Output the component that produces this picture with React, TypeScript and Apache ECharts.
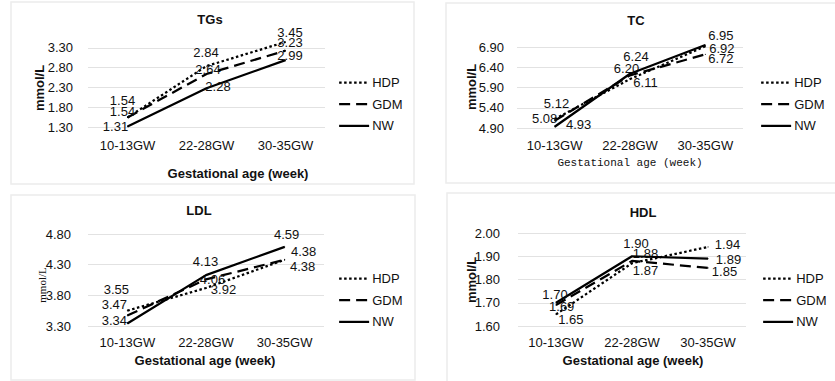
import React, { useEffect, useRef } from 'react';
import * as echarts from 'echarts';

// ---------- data ----------
const categories = ['10-13GW', '22-28GW', '30-35GW'];
const groups = ['HDP', 'GDM', 'NW'];

const tgsHDP = [1.54, 2.84, 3.45];
const tgsGDM = [1.54, 2.64, 3.23];
const tgsNW = [1.31, 2.28, 2.99];

const tcHDP = [5.12, 6.11, 6.92];
const tcGDM = [5.08, 6.2, 6.72];
const tcNW = [4.93, 6.24, 6.95];

const ldlHDP = [3.55, 3.92, 4.38];
const ldlGDM = [3.47, 4.06, 4.38];
const ldlNW = [3.34, 4.13, 4.59];

const hdlHDP = [1.65, 1.87, 1.94];
const hdlGDM = [1.69, 1.88, 1.85];
const hdlNW = [1.7, 1.9, 1.89];

const xAxisTitle = 'Gestational age (week)';
const yAxisTitle = 'mmol/L';

// ---------- layout / style (not data) ----------
const SANS = '"Liberation Sans", Arial, sans-serif';
const TXT = '#111';
const GRID_COLOR = '#e2e2e2';
const dashTypes: any[] = [[2.5, 2.5], [11, 6], 'solid'];

type Panel = {
  title: string;
  values: number[][];
  yMin: number; yMax: number; yStep: number; hideMax: boolean;
  box: number[];
  grid: { left: number; top: number; width: number; height: number };
  titlePos: number[];
  yName: { x: number; y: number; font: string };
  xName: { x: number; y: number; font: string };
  legend: { left: number; top: number };
  yLabelMargin: number; xLabelMargin: number;
  offsets: number[][][];
};

const BOLD13 = `bold 13px ${SANS}`;

const panels: Panel[] = [
  {
    title: 'TGs', values: [tgsHDP, tgsGDM, tgsNW],
    yMin: 1.3, yMax: 3.5, yStep: 0.5, hideMax: true,
    box: [11, 2, 403, 182],
    grid: { left: 88, top: 40, width: 237, height: 87 },
    titlePos: [210, 19],
    yName: { x: 39, y: 88, font: BOLD13 },
    xName: { x: 238, y: 173, font: BOLD13 },
    legend: { left: 338, top: 76 },
    yLabelMargin: 15, xLabelMargin: 11.5,
    offsets: [
      [[-5, -17.5], [-0.5, -14], [4.5, -9]],
      [[-5, -6.5], [1.5, -5], [4.5, -8]],
      [[-12, 0], [11.5, -2], [4.5, -5]],
    ],
  },
  {
    title: 'TC', values: [tcHDP, tcGDM, tcNW],
    yMin: 4.9, yMax: 7.1, yStep: 0.5, hideMax: true,
    box: [446, 3, 400, 180],
    grid: { left: 517, top: 39, width: 226, height: 89 },
    titlePos: [636, 20],
    yName: { x: 471, y: 87, font: BOLD13 },
    xName: { x: 630, y: 163, font: `11px "Liberation Mono", "DejaVu Sans Mono", monospace` },
    legend: { left: 760, top: 76 },
    yLabelMargin: 13, xLabelMargin: 10.5,
    offsets: [
      [[1.8, -16], [15.5, 3], [16.5, 2]],
      [[-10, -2.7], [-3.5, -7], [15.5, 4]],
      [[24, -2], [6, -17], [15.5, -10]],
    ],
  },
  {
    title: 'LDL', values: [ldlHDP, ldlGDM, ldlNW],
    yMin: 3.3, yMax: 4.8, yStep: 0.5, hideMax: false,
    box: [11, 195, 404, 185],
    grid: { left: 88, top: 234, width: 236, height: 92 },
    titlePos: [199, 210],
    yName: { x: 42, y: 285, font: `11px "Liberation Serif", "DejaVu Serif", serif` },
    xName: { x: 205, y: 360, font: BOLD13 },
    legend: { left: 338, top: 272 },
    yLabelMargin: 17, xLabelMargin: 9.5,
    offsets: [
      [[-11, -20.7], [17.5, 2], [18, 7]],
      [[-13, -10.6], [6.5, 0], [19, -8]],
      [[-13, -3.5], [-0.5, -13.4], [2, -12]],
    ],
  },
  {
    title: 'HDL', values: [hdlHDP, hdlGDM, hdlNW],
    yMin: 1.6, yMax: 2.0, yStep: 0.1, hideMax: false,
    box: [447, 193, 400, 200],
    grid: { left: 518, top: 233, width: 228, height: 93 },
    titlePos: [643, 212],
    yName: { x: 471, y: 280, font: BOLD13 },
    xName: { x: 633, y: 360, font: BOLD13 },
    legend: { left: 762, top: 272 },
    yLabelMargin: 18, xLabelMargin: 9.5,
    offsets: [
      [[14.8, 5], [13.5, 7], [19.5, -2]],
      [[5.7, 1.6], [13.5, -7.6], [16.5, 4]],
      [[-1, -8.75], [4, -13], [20.5, 1]],
    ],
  },
];

function buildOption() {
  const grid: any[] = [];
  const xAxis: any[] = [];
  const yAxis: any[] = [];
  const series: any[] = [];
  const legend: any[] = [];
  const graphic: any[] = [];

  panels.forEach((p, i) => {
    graphic.push({
      type: 'rect', z: -1, silent: true,
      shape: { x: p.box[0], y: p.box[1], width: p.box[2], height: p.box[3] },
      style: { fill: '#fff', stroke: '#ececec', lineWidth: 1.5 },
    });
    graphic.push({
      type: 'text', x: p.titlePos[0], y: p.titlePos[1], silent: true,
      style: { text: p.title, font: BOLD13, fill: TXT, align: 'center', verticalAlign: 'middle' },
    });
    graphic.push({
      type: 'text', x: p.yName.x, y: p.yName.y, rotation: Math.PI / 2, silent: true,
      style: { text: yAxisTitle, font: p.yName.font, fill: TXT, align: 'center', verticalAlign: 'middle' },
    });
    graphic.push({
      type: 'text', x: p.xName.x, y: p.xName.y, silent: true,
      style: { text: xAxisTitle, font: p.xName.font, fill: TXT, align: 'center', verticalAlign: 'middle' },
    });

    grid.push({ ...p.grid, containLabel: false });
    xAxis.push({
      type: 'category', gridIndex: i, data: categories, boundaryGap: true,
      axisLine: { show: false }, axisTick: { show: false },
      axisLabel: { fontSize: 13, fontFamily: SANS, color: TXT, margin: p.xLabelMargin, interval: 0 },
    });
    yAxis.push({
      type: 'value', gridIndex: i, min: p.yMin, max: p.yMax, interval: p.yStep,
      axisLine: { show: false }, axisTick: { show: false },
      axisLabel: {
        fontSize: 13, fontFamily: SANS, color: TXT, margin: p.yLabelMargin,
        showMaxLabel: !p.hideMax,
        formatter: (v: number) => v.toFixed(2),
      },
      splitLine: { show: true, showMaxLine: !p.hideMax, showMinLine: true, lineStyle: { color: GRID_COLOR, width: 1 } },
    });

    groups.forEach((g, j) => {
      series.push({
        type: 'line', name: g, xAxisIndex: i, yAxisIndex: i,
        data: p.values[j].map((v, k) => ({ value: v, label: { offset: p.offsets[j][k] } })),
        symbol: 'circle', symbolSize: 1,
        itemStyle: { color: '#000' },
        lineStyle: { color: '#000', width: 2.25, type: dashTypes[j] },
        label: {
          show: true, position: 'inside', fontSize: 13, fontFamily: SANS, color: TXT,
          formatter: (pp: any) => Number(pp.value).toFixed(2),
        },
        emphasis: { disabled: true },
        silent: true,
        z: 3 + j,
      });
    });

    legend.push({
      orient: 'vertical', left: p.legend.left, top: p.legend.top, padding: 0,
      itemWidth: 30, itemHeight: 14, itemGap: 8.7,
      data: groups,
      selectedMode: false,
      textStyle: { fontSize: 13, fontFamily: SANS, color: TXT, padding: [0, 0, 0, -2] },
      lineStyle: { width: 2.25 },
      itemStyle: { opacity: 0 },
    });
  });

  return {
    animation: false,
    backgroundColor: '#fff',
    textStyle: { fontFamily: SANS },
    grid, xAxis, yAxis, series, legend, graphic,
  };
}

export default function App() {
  const ref = useRef<HTMLDivElement>(null);
  useEffect(() => {
    if (!ref.current) return;
    const chart = echarts.init(ref.current, undefined, { renderer: 'svg' });
    chart.setOption(buildOption() as any);
    return () => chart.dispose();
  }, []);
  return (
    <div
      ref={ref}
      style={{ position: 'absolute', left: 0, top: 0, width: 835, height: 381, background: '#fff' }}
    />
  );
}
